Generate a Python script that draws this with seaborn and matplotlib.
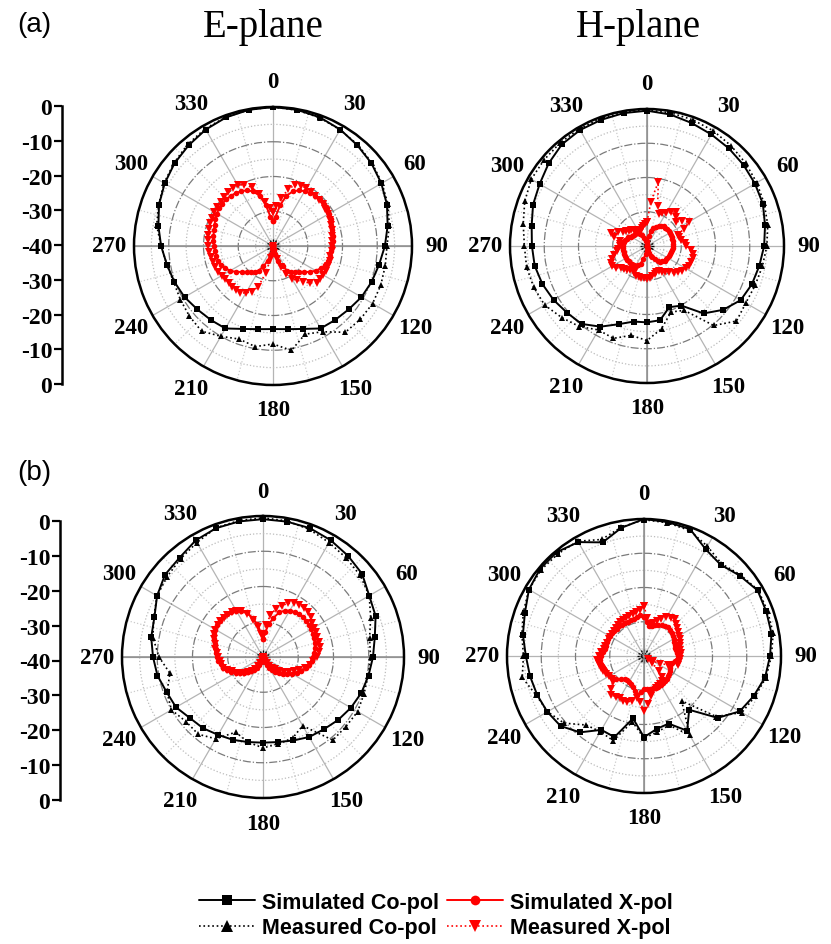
import numpy as np
import pandas as pd
import matplotlib.pyplot as plt
import seaborn as sns
from matplotlib.lines import Line2D

sns.set_theme(style='white')
plt.rcParams['font.family'] = ['Liberation Serif', 'DejaVu Serif']
plt.rcParams['text.color'] = 'black'
plt.rcParams['xtick.color'] = 'black'
plt.rcParams['ytick.color'] = 'black'

# angles (deg) of the samples
ang10 = np.arange(0, 360, 10)
ang5 = np.arange(0, 360, 5)

theta_ticks = [0, 30, 60, 90, 120, 150, 180, 210, 240, 270, 300, 330]
theta_labels = ['0', '30', '60', '90', '120', '150', '180', '210', '240', '270', '300', '330']
scale_labels = ['0', '-10', '-20', '-30', '-40', '-30', '-20', '-10', '0']
legend_labels = ['Simulated Co-pol', 'Measured Co-pol', 'Simulated X-pol', 'Measured X-pol']

# ---------- (a) E-plane ----------
a_e_sim_co = [0, -0.2, -0.6, -1.3, -2.2, -3.0, -4.0, -5.1, -6.5, -7.8, -9.0, -9.8,
              -10.6, -11.6, -12.2, -12.6, -14.6, -15.7, -16.1, -15.7, -14.6, -12.6, -12.2, -11.6,
              -10.6, -9.8, -9.0, -7.8, -6.5, -5.1, -4.0, -3.0, -2.2, -1.3, -0.6, -0.2]
a_e_meas_co = [0, -0.3, -0.7, -1.4, -2.0, -2.8, -3.8, -4.8, -6.0, -7.2, -7.2, -7.0,
               -6.9, -7.2, -7.6, -11.5, -13.0, -9.5, -11.8, -10.6, -11.5, -10.0, -8.0, -8.6,
               -9.2, -9.6, -9.0, -7.8, -6.0, -5.0, -3.8, -2.8, -1.8, -1.0, -0.5, -0.2]
a_e_sim_x = [-32.8, -31.5, -28.0, -25.0, -23.3, -22.3, -21.8, -21.4, -21.1, -21.0, -21.0, -21.1,
             -21.3, -21.7, -22.1, -22.4, -22.6, -22.8, -23.0, -23.2, -23.4, -23.6, -24.0, -24.8,
             -25.8, -27.0, -28.4, -29.5, -30.3, -31.0, -31.8, -33.5, -35.5, -37.5, -39.0, -40.0,
             -40.0, -40.0, -39.0, -37.5, -35.5, -33.5, -31.8, -31.0, -30.3, -29.5, -28.4, -27.0,
             -25.8, -24.8, -24.0, -23.6, -23.4, -23.2, -23.0, -22.8, -22.6, -22.4, -22.1, -21.7,
             -21.3, -21.1, -21.0, -21.0, -21.1, -21.4, -21.8, -22.3, -23.3, -25.0, -28.0, -31.5]
a_e_meas_x = [-30.2, -28.5, -26.0, -23.0, -21.3, -20.8, -20.8, -21.0, -21.2, -21.3, -21.4, -21.6,
              -21.8, -22.0, -22.2, -22.5, -22.7, -22.9, -23.0, -23.1, -23.3, -23.0, -23.2, -23.3,
              -23.3, -23.5, -23.6, -25.0, -26.5, -28.0, -29.0, -31.0, -33.5, -36.0, -38.0, -39.5,
              -40.0, -39.0, -36.5, -32.0, -27.5, -25.5, -24.4, -23.5, -23.3, -23.5, -23.6, -23.2,
              -23.0, -22.6, -22.3, -22.0, -21.8, -21.5, -21.3, -21.2, -21.0, -20.8, -20.7, -20.6,
              -20.5, -20.4, -20.3, -20.1, -19.9, -19.8, -19.8, -20.5, -22.0, -24.5, -27.0, -29.0]

# ---------- (a) H-plane ----------
a_h_sim_co = [-0.5, -1.0, -1.8, -2.4, -2.8, -3.2, -3.6, -4.0, -5.0, -5.8, -6.7, -7.4,
              -8.4, -11.0, -14.3, -19.9, -21.0, -18.0, -17.7, -17.6, -15.7, -12.8, -10.3, -9.6,
              -8.5, -7.5, -6.7, -6.4, -5.8, -4.6, -3.8, -2.5, -1.3, -0.9, -0.8, -0.6]
a_h_meas_co = [-0.3, -0.5, -0.8, -1.2, -1.8, -2.4, -3.0, -3.6, -4.2, -5.0, -5.8, -6.4,
               -6.7, -5.9, -9.7, -18.3, -19.5, -15.5, -12.4, -13.5, -11.3, -11.7, -9.3, -7.5,
               -5.5, -4.8, -4.3, -4.2, -3.3, -2.0, -1.0, -0.8, -0.6, -0.5, -0.4, -0.3]
a_h_sim_x = [-40.0, -38.5, -37.0, -35.5, -34.5, -33.8, -33.2, -32.8, -32.5, -32.4, -32.3, -32.3,
             -32.3, -32.3, -32.3, -32.3, -32.4, -32.4, -32.4, -32.5, -32.6, -32.7, -32.8, -33.0,
             -33.1, -33.2, -33.3, -33.6, -34.0, -34.5, -35.5, -36.3, -37.0, -38.0, -39.0, -40.0,
             -40.0, -38.5, -37.5, -36.0, -34.5, -33.8, -33.4, -33.2, -33.0, -33.0, -33.0, -33.0,
             -33.0, -33.0, -33.0, -33.0, -33.0, -33.0, -33.0, -33.1, -33.3, -33.5, -33.7, -34.0,
             -34.5, -34.8, -35.0, -35.0, -35.0, -35.5, -36.0, -36.5, -37.5, -38.5, -39.5, -40.0]
a_h_meas_x = [-33.0, -27.0, -21.0, -28.0, -30.0, -29.5, -29.0, -28.0, -27.0, -28.0, -28.9, -27.5,
              -26.0, -28.0, -30.5, -30.2, -30.0, -29.0, -28.5, -27.0, -26.4, -26.0, -26.2, -26.5,
              -27.0, -27.5, -28.0, -29.0, -30.0, -30.8, -31.3, -31.8, -32.0, -31.5, -31.0, -30.6,
              -30.4, -30.5, -30.6, -30.7, -30.8, -31.3, -31.9, -31.5, -31.0, -30.6, -30.0, -29.0,
              -28.1, -28.5, -29.2, -30.0, -31.0, -31.5, -32.0, -32.0, -31.9, -30.0, -28.9, -30.5,
              -31.9, -32.5, -33.0, -33.5, -34.0, -34.5, -34.7, -35.0, -35.0, -34.5, -34.0, -33.5]

# ---------- (b) E-plane ----------
b_e_sim_co = [-0.9, -1.0, -1.1, -1.7, -2.5, -3.3, -5.2, -6.0, -7.8, -8.8, -9.6, -10.3,
              -11.2, -12.2, -13.2, -13.8, -14.8, -15.5, -15.7, -15.5, -15.0, -14.5, -13.6, -13.0,
              -11.5, -10.9, -9.6, -8.8, -7.8, -7.2, -5.3, -3.7, -3.2, -1.8, -1.1, -0.95]
b_e_meas_co = [-0.5, -0.8, -1.5, -2.5, -3.3, -4.0, -5.2, -7.5, -9.3, -9.5, -9.7, -9.5,
               -9.0, -9.3, -9.2, -17.5, -15.5, -15.0, -14.2, -15.5, -17.3, -13.2, -11.4, -11.5,
               -10.0, -11.0, -13.2, -10.5, -8.3, -7.0, -5.3, -4.5, -3.6, -2.5, -1.0, -0.7]
b_e_sim_x = [-35.0, -33.0, -30.5, -28.5, -26.5, -25.5, -24.8, -24.4, -24.1, -24.0, -24.0, -24.1,
             -24.2, -24.4, -24.6, -24.8, -25.1, -25.4, -25.7, -26.1, -26.7, -27.5, -28.5, -29.5,
             -30.5, -31.7, -32.7, -33.5, -34.5, -35.5, -36.5, -37.5, -38.5, -39.2, -39.7, -40.0,
             -40.0, -40.0, -39.7, -39.2, -38.5, -37.5, -36.5, -35.5, -34.8, -34.0, -33.0, -32.0,
             -31.0, -30.0, -29.0, -28.3, -27.8, -27.3, -26.9, -26.7, -26.5, -26.0, -25.3, -24.8,
             -24.4, -24.2, -24.1, -24.1, -24.2, -24.4, -24.8, -25.5, -26.5, -28.5, -30.5, -33.0]
b_e_meas_x = [-34.0, -31.0, -28.0, -25.8, -24.5, -23.2, -22.4, -22.0, -21.8, -21.9, -22.4, -23.0,
              -23.3, -23.5, -23.6, -23.6, -23.6, -24.0, -24.8, -25.7, -26.6, -27.7, -29.0, -30.3,
              -31.5, -32.8, -34.0, -35.0, -36.0, -37.0, -38.0, -38.8, -39.5, -40.0, -40.0, -40.0,
              -40.0, -40.0, -40.0, -39.5, -39.0, -38.0, -37.0, -36.0, -35.0, -34.0, -33.0, -32.0,
              -31.2, -30.4, -29.2, -28.2, -28.0, -27.8, -27.3, -26.8, -26.2, -25.8, -25.3, -24.7,
              -24.4, -24.3, -24.2, -24.2, -24.3, -24.5, -24.8, -25.5, -27.0, -29.0, -31.5, -33.5]

# ---------- (b) H-plane ----------
b_h_sim_co = [0, -0.3, -0.6, -4.0, -5.2, -3.5, -1.7, -2.0, -2.2, -3.2, -4.1, -5.9,
              -7.7, -11.9, -19.5, -14.8, -19.0, -18.4, -16.3, -21.5, -14.8, -15.1, -10.9, -8.2,
              -7.4, -6.8, -6.2, -5.5, -4.1, -3.0, -1.2, -0.4, -0.4, -1.6, -4.7, -2.0]
b_h_meas_co = [-0.2, -0.5, -1.0, -3.0, -4.8, -3.2, -1.5, -1.6, -1.7, -2.8, -3.8, -5.5,
               -7.0, -12.5, -22.9, -13.3, -18.5, -17.5, -16.0, -20.5, -13.7, -14.5, -13.7, -9.5,
               -7.5, -6.5, -3.9, -4.8, -3.8, -2.5, -1.2, -0.8, -1.0, -1.3, -3.8, -1.8]
b_h_sim_x = [-28.5, -30.0, -31.2, -31.0, -30.5, -30.0, -29.7, -29.3, -29.0, -29.2, -29.4, -29.6,
             -29.9, -30.2, -30.5, -30.7, -30.5, -30.2, -30.0, -30.0, -30.8, -31.6, -31.8, -31.6,
             -31.3, -31.0, -30.8, -30.6, -30.5, -30.4, -30.2, -30.1, -30.1, -30.2, -30.3, -30.4,
             -30.4, -29.5, -28.5, -29.5, -30.5, -31.0, -31.3, -31.3, -31.3, -30.5, -29.5, -28.8,
             -28.5, -28.2, -27.8, -27.6, -27.3, -27.2, -27.5, -28.0, -28.4, -28.4, -28.4, -28.4,
             -28.4, -28.5, -28.6, -28.7, -28.7, -28.8, -28.9, -28.9, -28.9, -28.7, -28.5, -28.0]
b_h_meas_x = [-25.3, -29.0, -30.5, -30.0, -29.0, -28.0, -27.0, -26.5, -26.0, -26.8, -27.5, -27.8,
              -28.2, -28.5, -28.8, -29.0, -29.2, -29.3, -29.4, -29.5, -29.6, -29.6, -32.5, -34.8,
              -37.0, -38.5, -37.0, -34.0, -32.0, -31.0, -30.5, -30.3, -30.0, -29.5, -28.0, -26.0,
              -24.0, -26.5, -27.5, -26.5, -25.7, -25.6, -25.7, -25.5, -25.2, -26.5, -28.0, -28.5,
              -28.2, -27.8, -27.4, -27.0, -26.6, -26.2, -26.8, -27.4, -28.0, -28.3, -28.5, -28.6,
              -28.7, -28.7, -28.7, -28.5, -28.3, -28.0, -27.8, -27.8, -27.5, -27.2, -27.0, -26.5]

styles = [
    dict(color='black', ls='-', lw=1.4, marker='s', ms=4),
    dict(color='black', ls=':', lw=1.2, marker='^', ms=5),
    dict(color='red', ls='-', lw=1.4, marker='o', ms=4),
    dict(color='red', ls=':', lw=1.2, marker='v', ms=5.5),
]

W, H = 831, 945
fig = plt.figure(figsize=(W / 100, H / 100), dpi=100)


def closed(ang, vals):
    th = np.deg2rad(np.append(ang, 360))
    return th, np.append(vals, vals[0])


def panel(cx, cy, rad, series, cut):
    ax = fig.add_axes([(cx - rad) / W, 1 - (cy + rad) / H, 2 * rad / W, 2 * rad / H],
                      projection='polar')
    ax.set_theta_zero_location('N')
    ax.set_theta_direction(-1)
    ax.set_ylim(-40, 0)
    ax.set_yticks([-30, -20, -10])
    ax.set_yticks([-35, -25, -15, -5], minor=True)
    ax.set_yticklabels([])
    ax.yaxis.grid(True, which='major', color='#7a7a7a', ls='-.', lw=0.9)
    ax.yaxis.grid(True, which='minor', color='#bcbcbc', ls=':', lw=0.9)
    ax.set_xticks(np.deg2rad(theta_ticks))
    ax.set_xticklabels(theta_labels, fontsize=16.5, fontweight='bold', color='black')
    ax.set_xticks(np.deg2rad(np.arange(15, 360, 30)), minor=True)
    ax.xaxis.grid(True, which='major', color='#b4b4b4', ls='-', lw=0.9)
    ax.xaxis.grid(True, which='minor', color='#cccccc', ls=':', lw=0.9)
    ax.tick_params(axis='x', which='major', pad=11, bottom=True, direction='in',
                   length=5, width=1, color='black')
    ax.spines['polar'].set_linewidth(1.8)
    ax.spines['polar'].set_color('black')
    # principal cut line through the centre
    ax.plot(np.deg2rad([cut, cut, cut + 180, cut + 180]), [0, -40, -40, 0],
            color='#8a8a8a', lw=1.1, zorder=1)
    angs = [ang10, ang10, ang5, ang5]
    for ang, vals, st in zip(angs, series, styles):
        th, r = closed(ang, vals)
        sns.lineplot(x=th, y=r, ax=ax, sort=False, estimator=None,
                     color=st['color'], linestyle=st['ls'], lw=st['lw'],
                     marker=st['marker'], markersize=st['ms'], markeredgewidth=0)
    return ax


def scale(x, top, bottom):
    sax = fig.add_axes([x / W, 1 - bottom / H, 0.002, (bottom - top) / H])
    sax.set_ylim(0, 80)
    sax.set_yticks(np.arange(0, 81, 10))
    sax.set_yticklabels(scale_labels, fontsize=17, fontweight='bold', color='black')
    sax.set_xticks([])
    for s in ['top', 'right', 'bottom']:
        sax.spines[s].set_visible(False)
    sax.spines['left'].set_linewidth(1.8)
    sax.spines['left'].set_color('black')
    sax.tick_params(axis='y', left=True, direction='out', length=6, width=1.6,
                    color='black', pad=1)
    sax.patch.set_alpha(0)


panel(273, 247, 139, [a_e_sim_co, a_e_meas_co, a_e_sim_x, a_e_meas_x], 90)
panel(647, 247, 137, [a_h_sim_co, a_h_meas_co, a_h_sim_x, a_h_meas_x], 0)
panel(263, 658, 141, [b_e_sim_co, b_e_meas_co, b_e_sim_x, b_e_meas_x], 90)
panel(644, 657, 137, [b_h_sim_co, b_h_meas_co, b_h_sim_x, b_h_meas_x], 0)

scale(62, 107, 385)
scale(60, 522, 801)

fig.text(263 / W, 1 - 27 / H, 'E-plane', ha='center', va='center', fontsize=28)
fig.text(638 / W, 1 - 27 / H, 'H-plane', ha='center', va='center', fontsize=28)
fig.text(34 / W, 1 - 25 / H, '(a)', ha='center', va='center', fontsize=20,
         family=['Liberation Sans', 'DejaVu Sans'])
fig.text(34 / W, 1 - 473 / H, '(b)', ha='center', va='center', fontsize=20,
         family=['Liberation Sans', 'DejaVu Sans'])

handles = [Line2D([], [], color=st['color'], ls=st['ls'], lw=st['lw'], marker=st['marker'],
                  markersize=st['ms'] + 3, markeredgewidth=0) for st in styles]
fig.legend(handles, legend_labels, ncol=2, loc='center',
           bbox_to_anchor=(436 / W, 1 - 916 / H), frameon=False,
           prop=dict(family='Liberation Sans', weight='bold', size=15.5),
           handlelength=2.6, handletextpad=0.3, columnspacing=0.4, labelspacing=0.2)

fig.savefig('out.png', dpi=100)
